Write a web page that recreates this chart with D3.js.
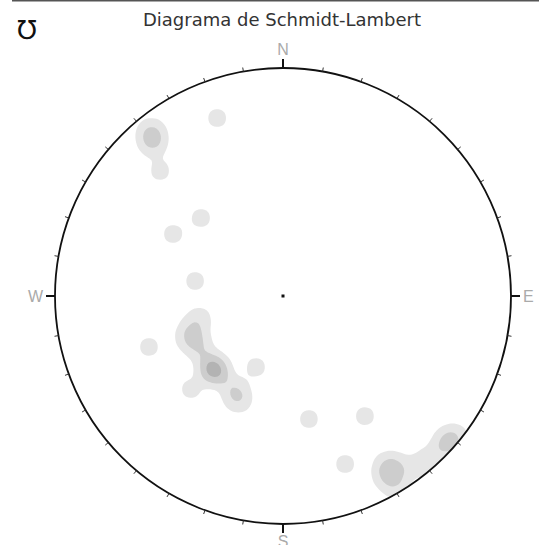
<!DOCTYPE html>
<html>
<head>
<meta charset="utf-8">
<script src="https://cdn.jsdelivr.net/npm/d3@7"></script>
<style>
  body { margin: 0; background: #fff; }
  svg { display: block; }
</style>
</head>
<body>
<script>
// Poles to measured planes: trend (azimuth, deg) and plunge (deg), lower hemisphere
const poleTrend = [
  321.5, 320.9, 320.0, 319.3, 315.5,
  339.7, 313.6, 299.4, 279.7,
  255.2, 251.0, 245.8, 240.3, 246.4, 235.0,
  225.4, 221.8, 224.2, 217.8, 223.8, 223.8,
  207.8, 204.9, 202.7,
  249.2, 200.8, 224.7, 168.1, 145.7, 159.7,
  148.5, 146.2, 150.7, 148.3, 148.3, 149.7, 142.5, 138.2,
  133.7, 131.2, 129.0, 131.3
];
const polePlunge = [
  7.7, 9.9, 11.6, 13.7, 24.1,
  17.9, 48.9, 43.9, 57.9,
  59.1, 55.7, 54.8, 54.2, 52.1, 54.7,
  54.0, 53.6, 52.1, 53.4, 53.4, 54.0,
  51.9, 50.4, 48.6,
  37.2, 62.7, 42.1, 44.1, 36.4, 22.5,
  14.7, 11.8, 10.4, 7.4, 10.7, 2.8, 5.5, 5.2,
  3.3, 3.1, 2.7, 4.8
];

const titleText = "Diagrama de Schmidt-Lambert";
const cardinalLabels = ["N", "E", "S", "W"];
const cardinalAzimuths = [0, 90, 180, 270];
const tickAzimuths = d3.range(0, 360, 10);

// Contour levels, as multiples of the peak density of a single pole
const levelMultiples = [0.5, 1.7, 3.3];
const levelColors = ["#e6e6e6", "#cdcdcd", "#b3b3b3"];

const W = 539, H = 545;
const cx = 283, cy = 296, R = 228;
const bandwidth = 8;

const svg = d3.select("body").append("svg")
  .attr("width", W).attr("height", H)
  .style("font-family", "'Liberation Sans', Arial, sans-serif");

// Equal-area (Schmidt) net: radius^2 is proportional to 1 - sin(plunge)
const radius = d3.scaleRadial().domain([0, 1]).range([0, R]);
const azimuth = d3.scaleLinear().domain([0, 360]).range([0, 2 * Math.PI]);

function project(trend, plunge) {
  const r = radius(1 - Math.sin(plunge * Math.PI / 180));
  const a = azimuth(trend);
  return [cx + r * Math.sin(a), cy - r * Math.cos(a)];
}

const poles = poleTrend.map((t, i) => {
  const [x, y] = project(t, polePlunge[i]);
  return { x, y };
});

// Top rule and corner glyph
svg.append("line")
  .attr("x1", 12).attr("x2", W).attr("y1", 0.5).attr("y2", 0.5)
  .attr("stroke", "#555").attr("stroke-width", 2);

svg.append("text")
  .attr("x", 17).attr("y", 39)
  .attr("font-family", "'DejaVu Sans', sans-serif")
  .attr("font-size", 26).attr("fill", "#111")
  .text("\u2127");

svg.append("text")
  .attr("x", 282).attr("y", 26)
  .attr("text-anchor", "middle")
  .attr("font-family", "'DejaVu Sans', sans-serif")
  .attr("font-size", 18).attr("fill", "#333")
  .text(titleText);

// Density contours of the poles, clipped to the primitive circle
svg.append("clipPath").attr("id", "net-clip")
  .append("circle").attr("cx", cx).attr("cy", cy).attr("r", R);

const peak = 1 / (2 * Math.PI * bandwidth * bandwidth);
const contours = d3.contourDensity()
  .x(d => d.x).y(d => d.y)
  .size([W, H])
  .cellSize(2)
  .bandwidth(bandwidth)
  .thresholds(levelMultiples.map(m => m * peak))(poles);

svg.append("g").attr("clip-path", "url(#net-clip)")
  .selectAll("path").data(contours).join("path")
  .attr("d", d3.geoPath())
  .attr("fill", (d, i) => levelColors[i])
  .attr("stroke", "none");

// Primitive circle
svg.append("circle")
  .attr("cx", cx).attr("cy", cy).attr("r", R)
  .attr("fill", "none").attr("stroke", "#111").attr("stroke-width", 1.8);

// Azimuth ticks every 10 degrees
svg.append("g").selectAll("line")
  .data(tickAzimuths.filter(a => a % 90 !== 0)).join("line")
  .each(function (a) {
    const t = azimuth(a);
    d3.select(this)
      .attr("x1", cx + R * Math.sin(t)).attr("y1", cy - R * Math.cos(t))
      .attr("x2", cx + (R + 4) * Math.sin(t)).attr("y2", cy - (R + 4) * Math.cos(t));
  })
  .attr("stroke", "#333").attr("stroke-width", 1);

// Cardinal ticks and labels
const card = svg.append("g");
card.selectAll("line").data(cardinalAzimuths).join("line")
  .each(function (a) {
    const t = azimuth(a);
    d3.select(this)
      .attr("x1", cx + R * Math.sin(t)).attr("y1", cy - R * Math.cos(t))
      .attr("x2", cx + (R + 9) * Math.sin(t)).attr("y2", cy - (R + 9) * Math.cos(t));
  })
  .attr("stroke", "#111").attr("stroke-width", 2);

card.selectAll("text").data(cardinalAzimuths).join("text")
  .each(function (a, i) {
    const t = azimuth(a);
    const r = R + 12;
    const x = cx + r * Math.sin(t), y = cy - r * Math.cos(t);
    const sel = d3.select(this).text(cardinalLabels[i]);
    if (a === 0) sel.attr("x", x).attr("y", y - 1).attr("text-anchor", "middle");
    else if (a === 180) sel.attr("x", x).attr("y", y + 11).attr("text-anchor", "middle");
    else if (a === 90) sel.attr("x", x).attr("y", y + 6).attr("text-anchor", "start");
    else sel.attr("x", x).attr("y", y + 6).attr("text-anchor", "end");
  })
  .attr("font-size", 16).attr("fill", "#aaa");

// Centre mark
svg.append("rect")
  .attr("x", cx - 1.5).attr("y", cy - 1.5).attr("width", 3).attr("height", 3)
  .attr("fill", "#111");
</script>
</body>
</html>
